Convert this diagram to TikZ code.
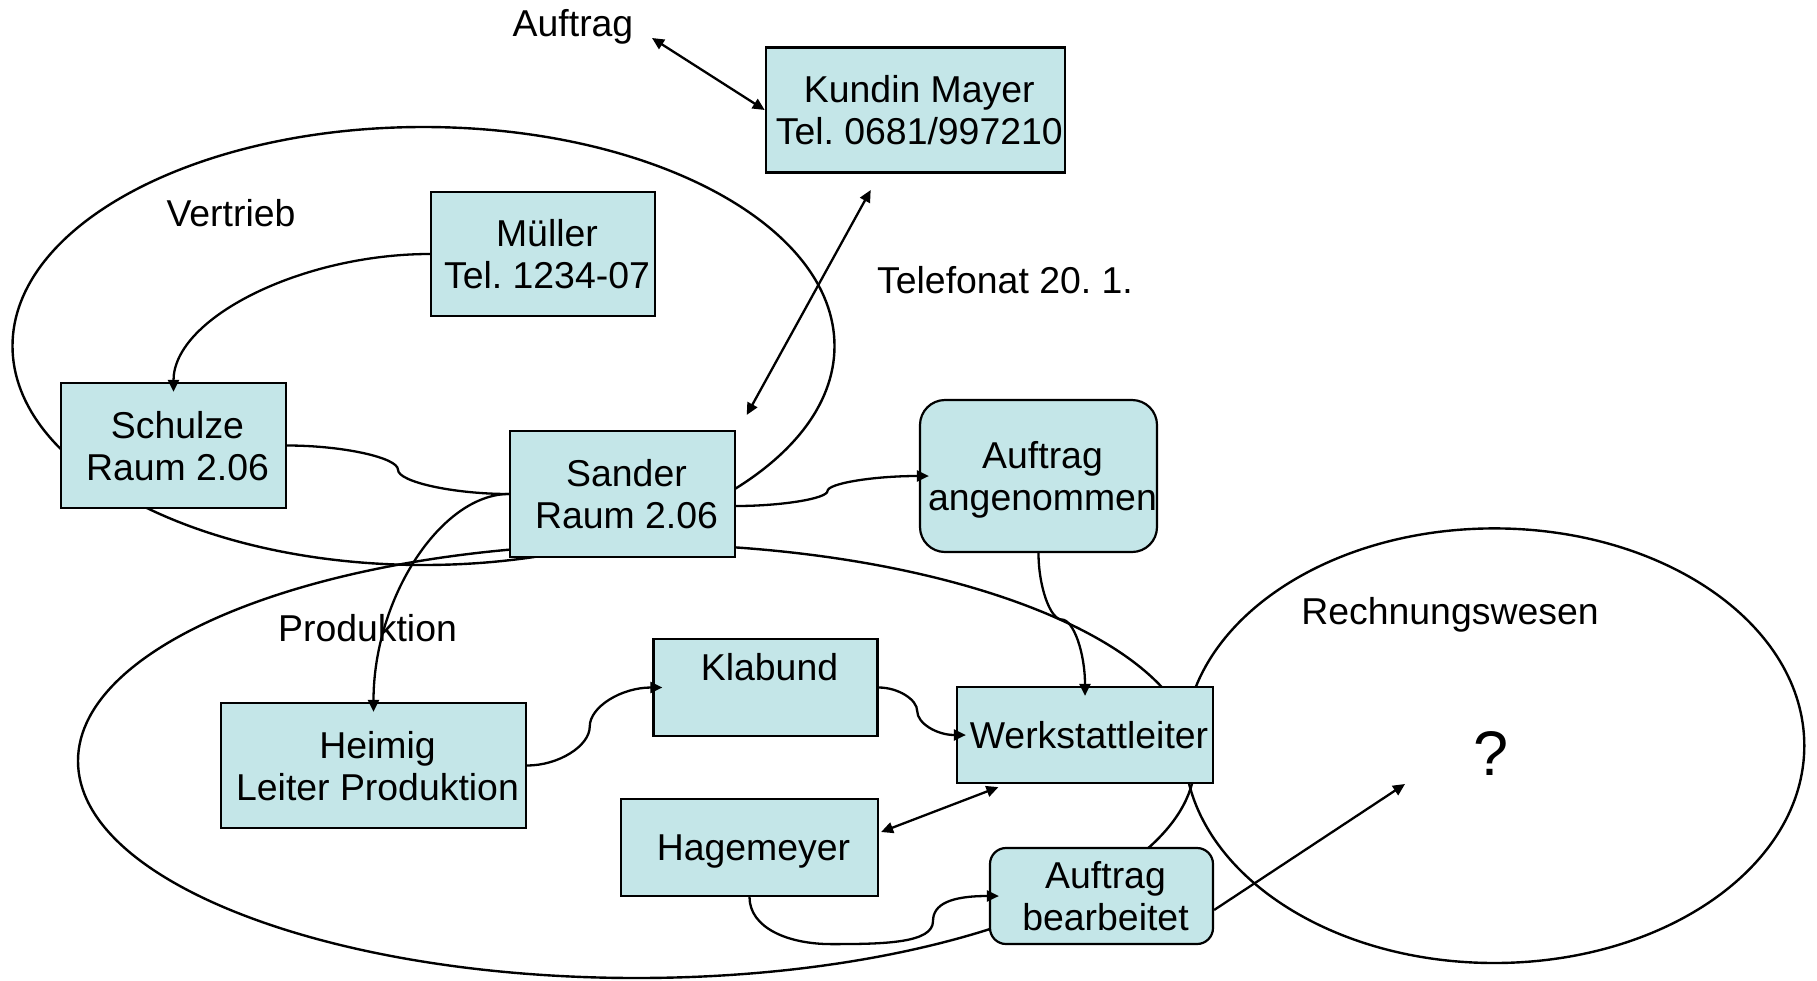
\documentclass[tikz,border=0pt]{standalone}
\usepackage{fontspec}
\setmainfont{Liberation Sans}
\usetikzlibrary{arrows.meta,calc}
\definecolor{boxfill}{RGB}{196,230,232}
\newcommand\diagfont{\fontsize{37.4}{42}\selectfont\frenchspacing}
% box lines sit a little right of the box centre
\newcommand\bl[1]{\hspace*{8pt}#1}

% S-shaped connector leaving and entering horizontally
\newcommand\hcurve[3][]{%
  \draw[#1] let \p1=(#2), \p2=(#3) in
    (\p1) .. controls ({\x1+(\x2-\x1)/4},\y1) and ({(\x1+\x2)/2},{\y1+(\y2-\y1)/4}) ..
    ({(\x1+\x2)/2},{(\y1+\y2)/2}) .. controls ({(\x1+\x2)/2},{\y1+3*(\y2-\y1)/4}) and ({\x2-(\x2-\x1)/4},\y2) .. (\p2);}
% S-shaped connector leaving and entering vertically
\newcommand\vcurve[3][]{%
  \draw[#1] let \p1=(#2), \p2=(#3) in
    (\p1) .. controls (\x1,{\y1+(\y2-\y1)/4}) and ({\x1+(\x2-\x1)/4},{(\y1+\y2)/2}) ..
    ({(\x1+\x2)/2},{(\y1+\y2)/2}) .. controls ({\x1+3*(\x2-\x1)/4},{(\y1+\y2)/2}) and (\x2,{\y2-(\y2-\y1)/4}) .. (\p2);}
% bent connector: leaves horizontally, enters vertically
\newcommand\ecurve[3][]{%
  \draw[#1] let \p1=(#2), \p2=(#3) in
    (\p1) .. controls ({(\x1+\x2)/2},\y1) and (\x2,{(\y1+\y2)/2}) .. (\p2);}

\begin{document}
\frenchspacing
\begin{tikzpicture}[x=1pt,y=-1pt,
  box/.style={draw, line width=2.2pt, fill=boxfill, inner sep=0pt, align=center, font=\diagfont, text depth=0pt},
  rbox/.style={box, rounded corners=#1},
  lbl/.style={font=\diagfont, anchor=base, inner sep=0pt},
  unit/.style={line width=2.4pt},
  conn/.style={line width=2.3pt},
  arr/.style={conn, -{Triangle[length=12pt,width=11pt]}, shorten >=-10pt},
  farr/.style={conn, -{Triangle[length=12pt,width=11pt]}},
  darr/.style={conn, {Triangle[length=12pt,width=11pt]}-{Triangle[length=12pt,width=11pt]}}]

\useasboundingbox (0,0) rectangle (1817,980);

% organisational units
\draw[unit] (423.5,346) ellipse [x radius=411, y radius=219];
\draw[unit] (636.5,761) ellipse [x radius=558.5, y radius=217];
\draw[unit] (1494.3,745.7) ellipse [x radius=310, y radius=217.3];

% persons and states
\node[box, minimum width=299pt, minimum height=125pt] (km) at (915.3,110) {\bl{Kundin Mayer}\\\bl{Tel. 0681/997210}};
\node[box, minimum width=224pt, minimum height=124pt] (muller) at (543,254) {\bl{Müller}\\\bl{Tel. 1234-07}};
\node[box, minimum width=225pt, minimum height=125pt] (schulze) at (173.5,445.5) {\bl{Schulze}\\\bl{Raum 2.06}};
\node[box, minimum width=225pt, minimum height=126pt] (sander) at (622.5,494) {\bl{Sander}\\\bl{Raum 2.06}};
\node[rbox=25pt, minimum width=237pt, minimum height=152pt] (aa) at (1038.5,476) {\bl{Auftrag}\\\bl{angenommen}};
\node[box, minimum width=224pt, minimum height=97pt] (klabund) at (765.5,687.5) {\bl{Klabund}\\\mbox{}};
\node[box, minimum width=256pt, minimum height=96pt] (wl) at (1085,735) {\bl{Werkstattleiter}};
\node[box, minimum width=305pt, minimum height=125pt] (heimig) at (373.5,765.5) {\bl{Heimig}\\\bl{Leiter Produktion}};
\node[box, minimum width=257pt, minimum height=97pt] (hage) at (749.5,847.5) {\bl{Hagemeyer}};
\node[rbox=16pt, minimum width=223pt, minimum height=96pt] (ab) at (1101.5,896) {\bl{Auftrag}\\\bl{bearbeitet}};

% free labels
\node[lbl] (tauftrag) at (573,36) {Auftrag};
\node[lbl] (tvertrieb) at (231,226) {Vertrieb};
\node[lbl] (ttel) at (1005,293) {Telefonat 20. 1.};
\node[lbl] (tprod) at (367.5,641) {Produktion};
\node[lbl] (trw) at (1450,624) {Rechnungswesen};
\node[anchor=base, inner sep=0pt, font=\fontsize{63}{70}\selectfont] (tq) at (1491,775) {?};

% loose connector ends
\coordinate (aufin) at (652,38);
\coordinate (telA) at (870.7,190);
\coordinate (telB) at (746.7,415);
\coordinate (rwin) at (1405,784);

% connectors
\draw[darr] (aufin) -- (km.west);
\draw[darr] (telA) -- (telB);
\ecurve[arr]{muller.west}{schulze.north}
\hcurve[conn]{schulze.east}{sander.west}
\ecurve[arr]{sander.west}{heimig.north}
\hcurve[arr]{$(sander.east)+(0,12)$}{aa.west}
\vcurve[arr]{aa.south}{wl.north}
\hcurve[arr]{heimig.east}{klabund.west}
\hcurve[arr]{klabund.east}{wl.west}
\draw[darr] ($(hage.east)+(2,-15.5)$) -- ($(wl.south west)+(42.5,3)$);
\draw[arr] (hage.south) .. controls +(0,30) and +(-45,0) .. ($(hage.south)+(82,47)$)
  .. controls +(53,0) and +(0,22) .. ($(hage.south)+(183.5,24)$)
  .. controls +(0,-17) and +(-38,0) .. (ab.west);
\draw[farr] ($(ab.east)+(0,14)$) -- (rwin);

\end{tikzpicture}
\end{document}
